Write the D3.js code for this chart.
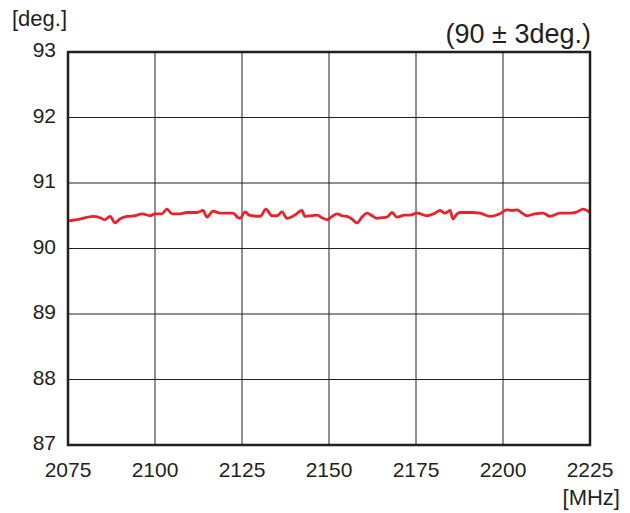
<!DOCTYPE html>
<html><head><meta charset="utf-8">
<script src="https://cdn.jsdelivr.net/npm/d3@7"></script>
<style>body{margin:0;background:#fff}svg{display:block}text{font-family:"Liberation Sans",Arial,sans-serif;fill:#231f20}</style>
</head><body>
<script>
const freq = [2075,2078.4,2082.2,2084.2,2085.6,2087.1,2088.5,2089.9,2092.0,2094.3,2096.3,2098.6,2100.0,2102.0,2103.4,2104.9,2107.2,2109.2,2112.1,2113.8,2114.9,2116.7,2118.7,2120.7,2122.4,2123.9,2124.4,2125.9,2127.0,2127.9,2130.2,2131.9,2133.6,2135.1,2136.5,2137.9,2140.2,2142.2,2143.1,2145.1,2146.6,2148.0,2149.4,2150.9,2152.3,2153.7,2155.2,2156.6,2158.0,2159.5,2160.9,2162.4,2163.8,2165.2,2166.7,2168.1,2169.5,2171.8,2173.3,2175.3,2178.2,2180.5,2181.9,2183.3,2184.8,2185.6,2186.8,2187.6,2191.1,2193.4,2196.3,2199.1,2201.1,2202.6,2204.0,2205.5,2206.9,2209.2,2211.5,2213.5,2216.4,2219.3,2221.3,2223.0,2225];
const phase = [90.42,90.45,90.49,90.47,90.44,90.49,90.39,90.45,90.49,90.50,90.53,90.50,90.53,90.53,90.60,90.53,90.53,90.55,90.55,90.58,90.48,90.57,90.54,90.54,90.54,90.47,90.46,90.56,90.51,90.50,90.49,90.60,90.50,90.50,90.56,90.46,90.51,90.58,90.49,90.50,90.51,90.47,90.44,90.49,90.53,90.50,90.49,90.45,90.39,90.48,90.54,90.50,90.46,90.47,90.48,90.55,90.48,90.51,90.51,90.54,90.50,90.54,90.58,90.54,90.58,90.45,90.53,90.55,90.55,90.54,90.49,90.53,90.59,90.58,90.59,90.54,90.50,90.53,90.54,90.49,90.54,90.54,90.56,90.60,90.55];
const xTicks = [2075,2100,2125,2150,2175,2200,2225];
const yTicks = [87,88,89,90,91,92,93];

const W=630,H=513, L=68,R=590,T=52,B=445;
const svg=d3.select("body").append("svg").attr("width",W).attr("height",H);
const x=d3.scaleLinear().domain([2075,2225]).range([L,R]);
const y=d3.scaleLinear().domain([87,93]).range([B,T]);

const g=svg.append("g");
g.selectAll("line.v").data(xTicks.slice(1,-1)).join("line")
 .attr("x1",d=>x(d)).attr("x2",d=>x(d)).attr("y1",T).attr("y2",B)
 .attr("stroke","#231f20").attr("stroke-width",1);
g.selectAll("line.h").data(yTicks.slice(1,-1)).join("line")
 .attr("y1",d=>y(d)).attr("y2",d=>y(d)).attr("x1",L).attr("x2",R)
 .attr("stroke","#231f20").attr("stroke-width",1);

const line=d3.line().x((d,i)=>x(freq[i])).y(d=>y(d)).curve(d3.curveMonotoneX);
svg.append("path").datum(phase).attr("d",line).attr("fill","none")
 .attr("stroke","#e8212b").attr("stroke-width",2.8).attr("stroke-linejoin","round");

svg.append("rect").attr("x",L).attr("y",T).attr("width",R-L).attr("height",B-T)
 .attr("fill","none").attr("stroke","#231f20").attr("stroke-width",2.5);

svg.selectAll("text.yt").data(yTicks).join("text")
 .attr("x",L-12).attr("y",d=>y(d)+5).attr("text-anchor","end")
 .attr("font-size",21).text(d=>d);
svg.selectAll("text.xt").data(xTicks).join("text")
 .attr("x",d=>x(d)).attr("y",476.5).attr("text-anchor","middle")
 .attr("font-size",21).text(d=>d);

svg.append("text").attr("x",12).attr("y",26).attr("font-size",22).text("[deg.]");
svg.append("text").attr("x",620).attr("y",505).attr("text-anchor","end").attr("font-size",22).text("[MHz]");
svg.append("text").attr("x",591).attr("y",43).attr("text-anchor","end").attr("font-size",27).text("(90 ± 3deg.)");
</script>
</body></html>
